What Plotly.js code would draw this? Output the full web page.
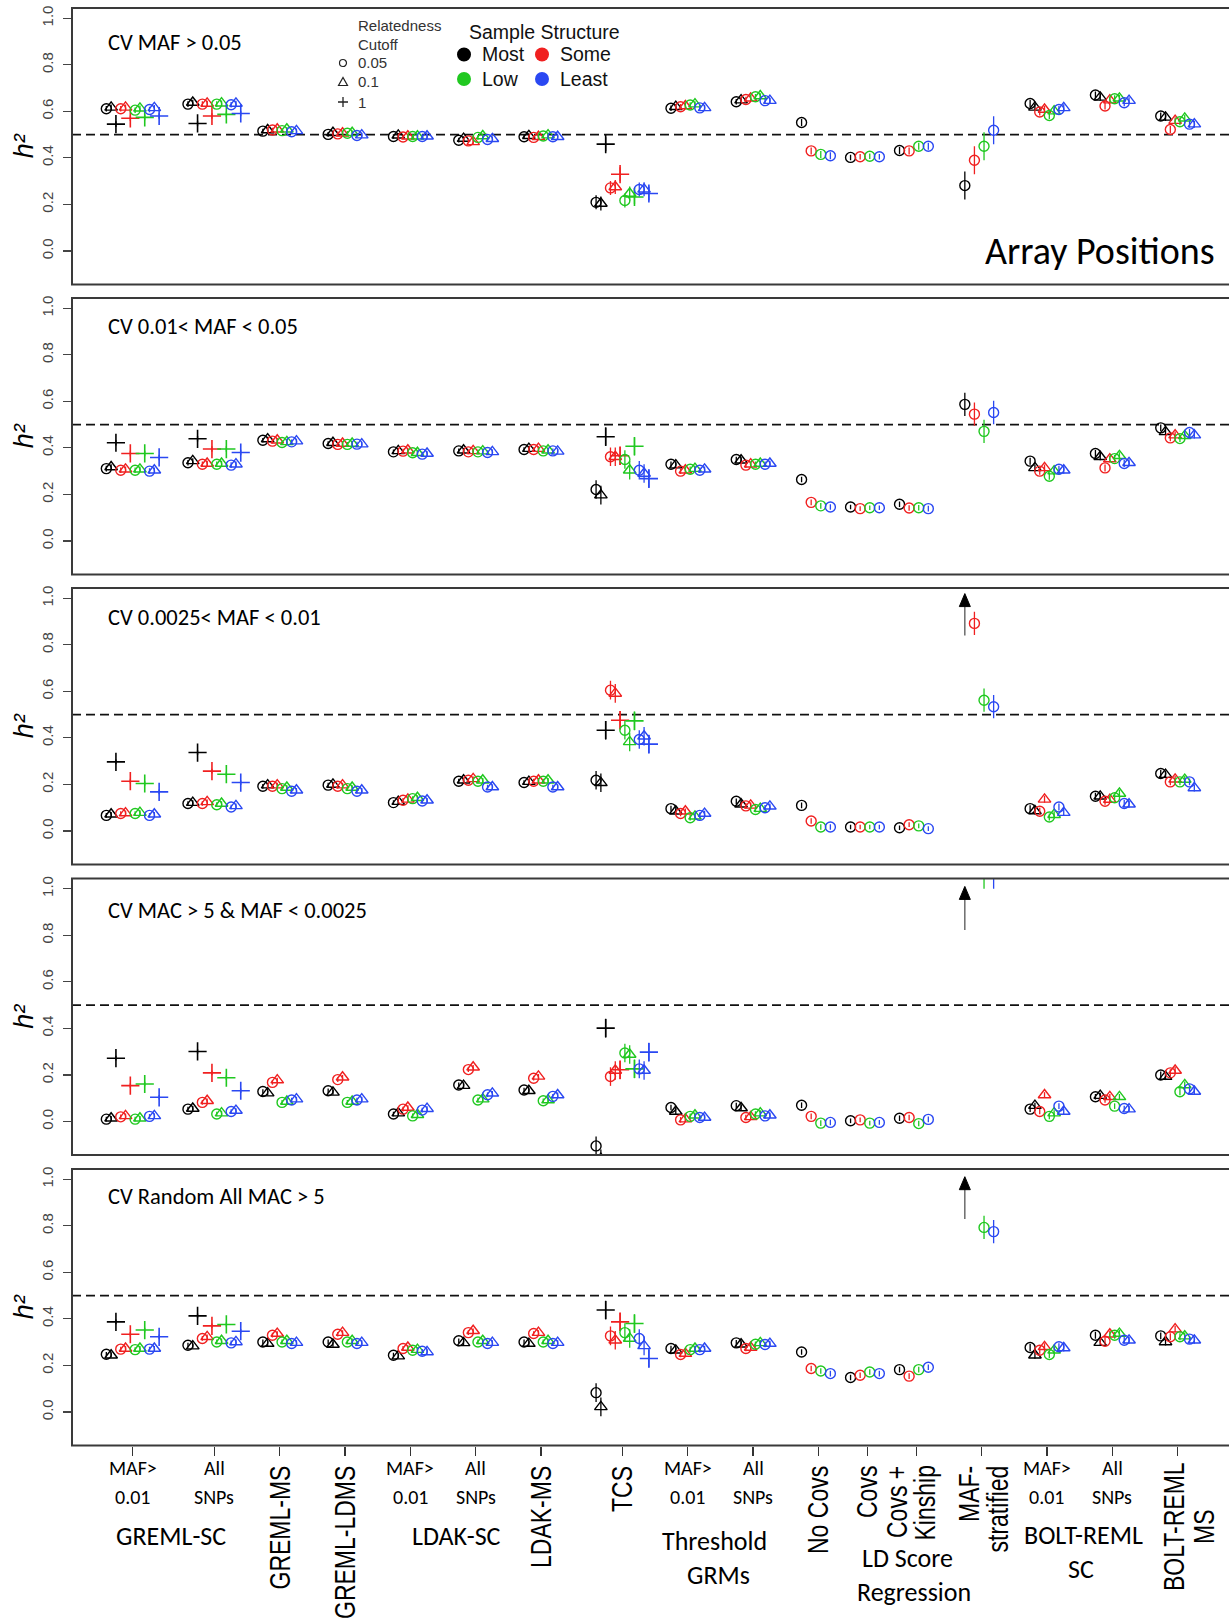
<!DOCTYPE html>
<html>
<head>
<meta charset="utf-8">
<script src="https://cdn.plot.ly/plotly-3.0.1.min.js"></script>
<style>
  html, body { margin: 0; padding: 0; background: #fff; }
  #chart { width: 1229px; height: 1621px; }
</style>
</head>
<body>
<div id="chart"></div>
<script>
// ---- Methods along the x axis ----
const methodLabels = ["GREML-SC MAF>0.01", "GREML-SC All SNPs", "GREML-MS", "GREML-LDMS",
  "LDAK-SC MAF>0.01", "LDAK-SC All SNPs", "LDAK-MS", "TCS",
  "Threshold GRMs MAF>0.01", "Threshold GRMs All SNPs",
  "LDSC No Covs", "LDSC Covs", "LDSC Covs + Kinship", "LDSC MAF-stratified",
  "BOLT-REML SC MAF>0.01", "BOLT-REML SC All SNPs", "BOLT-REML MS"];
const structures = ["Most", "Some", "Low", "Least"];
const cutoffs = ["0.05", "0.1", "1"];
const panelTitles = ["CV MAF > 0.05", "CV 0.01< MAF < 0.05", "CV 0.0025< MAF < 0.01",
  "CV MAC > 5 & MAF < 0.0025", "CV Random All MAC > 5"];
const yTicks = [0, 0.2, 0.4, 0.6, 0.8, 1.0];
const N = null;

// ---- h2 estimates: panel / sample structure / relatedness cutoff (c=0.05, t=0.1, p=1) ----
// Panel 1: CV MAF > 0.05
const p1_most_c  = [0.611,0.631,0.515,0.501,0.492,0.476,0.491,0.209,0.613,0.641,0.552,0.402,0.432,0.281,0.634,0.670,0.580];
const p1_most_t  = [0.617,0.638,0.520,0.508,0.497,0.483,0.495,0.204,0.620,0.648,N,N,N,N,0.617,0.660,0.574];
const p1_most_p  = [0.545,0.548,N,N,N,N,N,0.459,N,N,N,N,N,N,N,N,N];
const p1_some_c  = [0.611,0.631,0.520,0.503,0.490,0.473,0.488,0.271,0.620,0.651,0.430,0.405,0.430,0.390,0.597,0.623,0.522];
const p1_some_t  = [0.617,0.634,0.523,0.506,0.493,0.469,0.491,0.275,0.623,0.656,N,N,N,N,0.608,0.648,0.560];
const p1_some_p  = [0.570,0.580,N,N,N,N,N,0.330,N,N,N,N,N,N,N,N,N];
const p1_low_c   = [0.605,0.631,0.517,0.506,0.492,0.488,0.494,0.217,0.627,0.663,0.415,0.407,0.450,0.450,0.582,0.654,0.555];
const p1_low_t   = [0.613,0.635,0.523,0.508,0.493,0.494,0.498,0.247,0.631,0.666,N,N,N,N,0.601,0.656,0.570];
const p1_low_p   = [0.574,0.587,N,N,N,N,N,0.232,N,N,N,N,N,N,N,N,N];
const p1_least_c = [0.608,0.628,0.512,0.496,0.492,0.479,0.491,0.264,0.615,0.646,0.409,0.405,0.450,0.519,0.608,0.637,0.545];
const p1_least_t = [0.615,0.634,0.516,0.498,0.493,0.482,0.491,0.265,0.615,0.646,N,N,N,N,0.615,0.646,0.545];
const p1_least_p = [0.580,0.591,N,N,N,N,N,0.247,N,N,N,N,N,N,N,N,N];

// Panel 2: CV 0.01 < MAF < 0.05
const p2_most_c  = [0.311,0.336,0.433,0.419,0.383,0.387,0.393,0.221,0.330,0.350,0.264,0.146,0.158,0.587,0.343,0.376,0.486];
const p2_most_t  = [0.318,0.344,0.438,0.422,0.387,0.390,0.397,0.197,0.326,0.347,N,N,N,N,0.314,0.362,0.469];
const p2_most_p  = [0.422,0.439,N,N,N,N,N,0.448,N,N,N,N,N,N,N,N,N];
const p2_some_c  = [0.304,0.330,0.429,0.415,0.386,0.383,0.393,0.362,0.300,0.326,0.166,0.139,0.142,0.545,0.300,0.314,0.443];
const p2_some_t  = [0.308,0.333,0.433,0.419,0.390,0.387,0.397,0.362,0.304,0.330,N,N,N,N,0.314,0.352,0.455];
const p2_some_p  = [0.376,0.395,N,N,N,N,N,0.366,N,N,N,N,N,N,N,N,N];
const p2_low_c   = [0.304,0.330,0.423,0.415,0.379,0.383,0.387,0.350,0.308,0.330,0.151,0.143,0.143,0.471,0.278,0.354,0.440];
const p2_low_t   = [0.308,0.333,0.426,0.419,0.379,0.386,0.390,0.304,0.311,0.333,N,N,N,N,0.300,0.366,0.452];
const p2_low_p   = [0.376,0.395,N,N,N,N,N,0.407,N,N,N,N,N,N,N,N,N];
const p2_least_c = [0.300,0.326,0.426,0.416,0.373,0.380,0.387,0.304,0.304,0.330,0.146,0.143,0.139,0.552,0.308,0.333,0.466];
const p2_least_t = [0.304,0.330,0.429,0.416,0.376,0.383,0.385,0.290,0.308,0.333,N,N,N,N,0.304,0.336,0.455];
const p2_least_p = [0.359,0.380,N,N,N,N,N,0.268,N,N,N,N,N,N,N,N,N];

// Panel 3: CV 0.0025 < MAF < 0.01
const p3_most_c  = [0.067,0.118,0.192,0.197,0.122,0.214,0.208,0.218,0.096,0.128,0.110,0.017,0.014,N,0.096,0.149,0.247];
const p3_most_t  = [0.072,0.122,0.197,0.200,0.126,0.218,0.212,0.207,0.085,0.115,N,N,N,N,0.086,0.149,0.242];
const p3_most_p  = [0.297,0.337,N,N,N,N,N,0.433,N,N,N,N,N,N,N,N,N];
const p3_some_c  = [0.075,0.118,0.192,0.192,0.132,0.218,0.214,0.605,0.075,0.108,0.043,0.017,0.027,0.892,0.085,0.128,0.211];
const p3_some_t  = [0.077,0.125,0.197,0.197,0.136,0.224,0.218,0.591,0.085,0.110,N,N,N,N,0.136,0.135,0.222];
const p3_some_p  = [0.214,0.257,N,N,N,N,N,0.476,N,N,N,N,N,N,N,N,N];
const p3_low_c   = [0.075,0.113,0.182,0.182,0.139,0.214,0.214,0.433,0.057,0.092,0.017,0.017,0.022,0.562,0.060,0.143,0.211];
const p3_low_t   = [0.079,0.118,0.187,0.187,0.143,0.218,0.218,0.383,0.063,0.096,N,N,N,N,0.070,0.161,0.221];
const p3_low_p   = [0.204,0.244,N,N,N,N,N,0.473,N,N,N,N,N,N,N,N,N];
const p3_least_c = [0.067,0.103,0.171,0.171,0.129,0.189,0.189,0.393,0.067,0.100,0.017,0.017,0.010,0.534,0.103,0.118,0.211];
const p3_least_t = [0.072,0.108,0.175,0.175,0.132,0.189,0.189,0.407,0.075,0.106,N,N,N,N,0.079,0.115,0.185];
const p3_least_p = [0.168,0.208,N,N,N,N,N,0.373,N,N,N,N,N,N,N,N,N];

// Panel 4: CV MAC > 5 & MAF < 0.0025
const p4_most_c  = [0.010,0.053,0.129,0.132,0.032,0.157,0.135,-0.105,0.060,0.068,0.070,0.003,0.014,N,0.053,0.106,0.200];
const p4_most_t  = [0.014,0.056,0.122,0.125,0.036,0.154,0.132,-0.160,0.043,0.058,N,N,N,N,0.068,0.111,0.193];
const p4_most_p  = [0.272,0.301,N,N,N,N,N,0.401,N,N,N,N,N,N,N,N,N];
const p4_some_c  = [0.020,0.082,0.168,0.180,0.053,0.223,0.186,0.193,0.007,0.017,0.022,0.007,0.017,N,0.043,0.092,0.209];
const p4_some_t  = [0.024,0.089,0.178,0.190,0.060,0.233,0.194,0.219,0.010,0.020,N,N,N,N,0.114,0.106,0.219];
const p4_some_p  = [0.154,0.209,N,N,N,N,N,0.222,N,N,N,N,N,N,N,N,N];
const p4_low_c   = [0.010,0.032,0.082,0.082,0.024,0.092,0.089,0.294,0.022,0.032,-0.007,-0.007,-0.009,1.090,0.022,0.066,0.128];
const p4_low_t   = [0.014,0.036,0.086,0.086,0.029,0.096,0.092,0.288,0.027,0.036,N,N,N,N,0.036,0.106,0.157];
const p4_low_p   = [0.161,0.188,N,N,N,N,N,0.226,N,N,N,N,N,N,N,N,N];
const p4_least_c = [0.022,0.043,0.092,0.092,0.049,0.115,0.108,0.226,0.017,0.024,-0.004,-0.004,0.009,1.090,0.066,0.056,0.140];
const p4_least_t = [0.024,0.047,0.096,0.096,0.055,0.121,0.114,0.219,0.017,0.027,N,N,N,N,0.043,0.053,0.129];
const p4_least_p = [0.104,0.132,N,N,N,N,N,0.298,N,N,N,N,N,N,N,N,N];

// Panel 5: CV Random All MAC > 5
const p5_most_c  = [0.248,0.287,0.301,0.301,0.244,0.306,0.301,0.083,0.273,0.297,0.258,0.148,0.182,N,0.277,0.330,0.327];
const p5_most_t  = [0.244,0.283,0.294,0.290,0.240,0.297,0.294,0.022,0.265,0.291,N,N,N,N,0.244,0.298,0.301];
const p5_most_p  = [0.387,0.413,N,N,N,N,N,0.438,N,N,N,N,N,N,N,N,N];
const p5_some_c  = [0.270,0.316,0.330,0.334,0.273,0.341,0.337,0.327,0.247,0.273,0.187,0.158,0.154,N,0.265,0.304,0.323];
const p5_some_t  = [0.273,0.323,0.337,0.341,0.277,0.349,0.341,0.308,0.251,0.277,N,N,N,N,0.280,0.334,0.356];
const p5_some_p  = [0.334,0.370,N,N,N,N,N,0.387,N,N,N,N,N,N,N,N,N];
const p5_low_c   = [0.268,0.301,0.301,0.301,0.265,0.301,0.301,0.341,0.268,0.291,0.176,0.172,0.182,0.793,0.247,0.330,0.323];
const p5_low_t   = [0.273,0.306,0.306,0.306,0.268,0.306,0.306,0.316,0.273,0.297,N,N,N,N,0.265,0.337,0.326];
const p5_low_p   = [0.352,0.376,N,N,N,N,N,0.380,N,N,N,N,N,N,N,N,N];
const p5_least_c = [0.270,0.297,0.294,0.294,0.261,0.294,0.294,0.316,0.268,0.290,0.165,0.165,0.192,0.775,0.280,0.308,0.313];
const p5_least_t = [0.273,0.301,0.298,0.298,0.258,0.298,0.298,0.284,0.273,0.294,N,N,N,N,0.275,0.308,0.308];
const p5_least_p = [0.323,0.347,N,N,N,N,N,0.230,N,N,N,N,N,N,N,N,N];

// Half-widths of the confidence intervals, per panel and method
const ci_p1 = [0.012,0.012,0.010,0.010,0.010,0.010,0.010,0.030,0.012,0.012,0.015,0.012,0.015,0.060,0.015,0.015,0.015];
const ci_p2 = [0.012,0.012,0.010,0.010,0.010,0.010,0.010,0.040,0.012,0.012,0.012,0.010,0.012,0.050,0.015,0.015,0.015];
const ci_p3 = [0.010,0.010,0.010,0.010,0.010,0.010,0.010,0.040,0.012,0.012,0.012,0.010,0.010,0.050,0.015,0.015,0.015];
const ci_p4 = [0.010,0.010,0.010,0.010,0.010,0.010,0.010,0.040,0.012,0.012,0.012,0.010,0.012,0.090,0.012,0.012,0.015];
const ci_p5 = [0.010,0.010,0.010,0.010,0.010,0.010,0.010,0.040,0.012,0.012,0.012,0.012,0.012,0.050,0.015,0.015,0.015];

// Off-scale estimates (MAF-stratified, Most structure) shown as arrows
const arrowPanels = [3, 4, 5];
const arrowFrom   = [0.840, 0.823, 0.829];
const arrowTo     = [1.020, 1.010, 1.011];

// ---- Assemble ----
const panels = [
  [[p1_most_c,p1_most_t,p1_most_p],[p1_some_c,p1_some_t,p1_some_p],[p1_low_c,p1_low_t,p1_low_p],[p1_least_c,p1_least_t,p1_least_p]],
  [[p2_most_c,p2_most_t,p2_most_p],[p2_some_c,p2_some_t,p2_some_p],[p2_low_c,p2_low_t,p2_low_p],[p2_least_c,p2_least_t,p2_least_p]],
  [[p3_most_c,p3_most_t,p3_most_p],[p3_some_c,p3_some_t,p3_some_p],[p3_low_c,p3_low_t,p3_low_p],[p3_least_c,p3_least_t,p3_least_p]],
  [[p4_most_c,p4_most_t,p4_most_p],[p4_some_c,p4_some_t,p4_some_p],[p4_low_c,p4_low_t,p4_low_p],[p4_least_c,p4_least_t,p4_least_p]],
  [[p5_most_c,p5_most_t,p5_most_p],[p5_some_c,p5_some_t,p5_some_p],[p5_low_c,p5_low_t,p5_low_p],[p5_least_c,p5_least_t,p5_least_p]]
];
const panelCI = [ci_p1, ci_p2, ci_p3, ci_p4, ci_p5];

// Layout geometry
const W = 1229, H = 1621, ML = 72, PW = W - ML;
const PX_PER_UNIT = 65.3;
const X0 = 0.07;
const methodPos = [1, 2.25, 3.25, 4.25, 5.25, 6.25, 7.25, 8.5, 9.5, 10.5, 11.5, 12.25, 13, 14, 15, 16, 17];
const shapesPerStructure = [3,3,2,2,2,2,2,3,2,2,2,2,2,2,2,2,2];
const STEP = 0.0735;
const PANEL_TOP = [8, 298, 588, 878.5, 1169];
const PANEL_H = 276.5;
const YR = [-0.144, 1.044];

const colours = ["#000000", "#f02020", "#20c820", "#2a48f2"];
const symbols = ["circle-open", "triangle-up-open", "cross-thin-open"];
const symSize = [10, 11, 13];
const symLine = [1.4, 1.4, 1.6];

const SANS = "Liberation Sans, Arial, sans-serif";
const HUMAN = "Carlito, Lato, sans-serif";

const px2x = px => (px - ML) / PW;        // paper x from page pixel
const px2y = py => 1 - py / H;             // paper y from page pixel

function xPos(g, ci, si) {
  const ns = shapesPerStructure[g];
  const n = 4 * ns;
  const k = ci * ns + si;
  return methodPos[g] + (k - (n - 1) / 2) * STEP;
}

const traces = [];
panels.forEach((pd, p) => {
  const yax = p === 0 ? "y" : "y" + (p + 1);
  pd.forEach((series, ci) => {
    series.forEach((vals, si) => {
      const xs = [], ys = [], es = [];
      vals.forEach((v, g) => {
        if (v === null) return;
        xs.push(xPos(g, ci, si));
        ys.push(v);
        es.push(panelCI[p][g]);
      });
      traces.push({
        type: "scatter", mode: "markers", xaxis: "x", yaxis: yax,
        x: xs, y: ys,
        name: structures[ci] + " / " + cutoffs[si],
        marker: { symbol: symbols[si], size: symSize[si], color: colours[ci],
                  line: { color: colours[ci], width: symLine[si] } },
        error_y: { type: "data", array: es, visible: true, width: 0,
                   thickness: 1.3, color: colours[ci] },
        hoverinfo: "skip"
      });
    });
  });
});

const layout = {
  width: W, height: H,
  margin: { l: ML, r: 0, t: 0, b: 0, pad: 0 },
  paper_bgcolor: "#ffffff", plot_bgcolor: "#ffffff",
  showlegend: false,
  font: { family: SANS, color: "#000" },
  xaxis: {
    range: [X0, X0 + PW / PX_PER_UNIT], anchor: "y5",
    tickvals: methodPos, ticks: "outside", ticklen: 9, tickwidth: 1.4, tickcolor: "#333",
    showticklabels: false, showgrid: false, zeroline: false, showline: false, fixedrange: true
  },
  shapes: [], annotations: []
};

PANEL_TOP.forEach((top, p) => {
  const key = p === 0 ? "yaxis" : "yaxis" + (p + 1);
  const yref = p === 0 ? "y" : "y" + (p + 1);
  layout[key] = {
    domain: [px2y(top + PANEL_H), px2y(top)], anchor: "x", range: YR,
    tickvals: yTicks, tickformat: ".1f", tickangle: -90,
    ticks: "outside", ticklen: 8, tickwidth: 1.2, tickcolor: "#444",
    ticklabelstandoff: 4,
    tickfont: { family: SANS, size: 15, color: "#444" },
    showgrid: false, zeroline: false, showline: false, fixedrange: true
  };
  // panel frame (the right side runs off the page)
  layout.shapes.push({ type: "rect", xref: "paper", yref: yref + " domain",
    x0: 0, x1: 1.01, y0: 0, y1: 1, line: { color: "#3a3a3a", width: 2 }, layer: "above" });
  // true heritability reference line
  layout.shapes.push({ type: "line", xref: "paper", yref: yref, x0: 0, x1: 1, y0: 0.5, y1: 0.5,
    line: { color: "#111", width: 1.8, dash: "9px,5px" }, layer: "below" });
  // y axis label
  layout.annotations.push({ xref: "paper", yref: yref + " domain", x: px2x(24), y: 0.5,
    text: "h²", textangle: -90, showarrow: false, xanchor: "center", yanchor: "middle",
    font: { family: SANS, size: 27, color: "#000", style: "italic" } });
});

// panel titles
const titleOffset = [34.7, 28.7, 29.3, 31.5, 27];
panelTitles.forEach((t, p) => {
  layout.annotations.push({ xref: "paper", yref: "paper", x: px2x(106), y: px2y(PANEL_TOP[p] + titleOffset[p]),
    text: t, showarrow: false, xanchor: "left", yanchor: "middle",
    font: { family: HUMAN, size: 22.5, color: "#000" } });
});
layout.annotations.push({ xref: "paper", yref: "paper", x: px2x(1217), y: px2y(251),
  text: "Array Positions", showarrow: false, xanchor: "right", yanchor: "middle",
  font: { family: HUMAN, size: 38, color: "#000" } });

// legends in the first panel
const legText = (txt, x, y, size, col) => layout.annotations.push({ xref: "paper", yref: "paper",
  x: px2x(x), y: px2y(y), text: txt, showarrow: false, xanchor: "left", yanchor: "middle",
  font: { family: SANS, size: size, color: col } });
legText("Relatedness", 356, 26, 15, "#333");
legText("Cutoff", 356, 45, 15, "#333");
legText(cutoffs[0], 356, 63, 15, "#333");
legText(cutoffs[1], 356, 82, 15, "#333");
legText(cutoffs[2], 356, 102, 15, "#333");
const glyph = (path, x, y, w) => layout.shapes.push({ type: "path", xref: "paper", yref: "paper",
  xsizemode: "pixel", ysizemode: "pixel", xanchor: px2x(x), yanchor: px2y(y), path: path,
  line: { color: "#222", width: w } });
layout.shapes.push({ type: "circle", xref: "paper", yref: "paper", xsizemode: "pixel", ysizemode: "pixel",
  xanchor: px2x(343), yanchor: px2y(63), x0: -3.5, x1: 3.5, y0: -3.5, y1: 3.5, line: { color: "#222", width: 1.2 } });
glyph("M-4.5,-3.5L4.5,-3.5L0,4.5Z", 343, 82, 1.2);
glyph("M-5,0L5,0M0,-5L0,5", 343, 102, 1.3);

legText("Sample Structure", 467, 32, 19.5, "#111");
const dotPos = [[464, 54.5, 480], [542, 54.5, 558], [464, 79, 480], [542, 79, 558]];
structures.forEach((s, i) => {
  const [dx, dy, tx] = dotPos[i];
  layout.shapes.push({ type: "circle", xref: "paper", yref: "paper", xsizemode: "pixel", ysizemode: "pixel",
    xanchor: px2x(dx), yanchor: px2y(dy), x0: -7, x1: 7, y0: -7, y1: 7,
    fillcolor: colours[i], line: { color: colours[i], width: 0 } });
  legText(s, tx, dy, 19.5, "#111");
});

// off-scale arrows: grey shaft with a filled head at the top
arrowPanels.forEach((pn, i) => {
  const yref = "y" + pn;
  const xa = xPos(13, 0, 0);
  layout.shapes.push({ type: "line", xref: "x", yref: yref, x0: xa, x1: xa,
    y0: arrowFrom[i], y1: arrowTo[i] - 0.03, line: { color: "#555", width: 1.3 } });
  layout.shapes.push({ type: "path", xref: "x", yref: yref, xsizemode: "pixel", ysizemode: "pixel",
    xanchor: xa, yanchor: arrowTo[i], path: "M-5.5,-13L5.5,-13L0,0Z",
    fillcolor: "#000", line: { color: "#000", width: 1 } });
});

// x axis category labels
const hLab = (txt, x, py, size, xref) => layout.annotations.push({ xref: xref || "x", yref: "paper",
  x: x, y: px2y(py), text: txt, showarrow: false, xanchor: "center", yanchor: "middle",
  font: { family: HUMAN, size: size, color: "#000" } });
[[0, "MAF>", "0.01"], [1, "All", "SNPs"], [4, "MAF>", "0.01"], [5, "All", "SNPs"],
 [8, "MAF>", "0.01"], [9, "All", "SNPs"], [14, "MAF>", "0.01"], [15, "All", "SNPs"]].forEach(([g, a, b]) => {
  hLab(a, methodPos[g], 1467.5, 20);
  hLab(b, methodPos[g], 1496.5, 20);
});
hLab("GREML-SC", px2x(171), 1536, 26, "paper");
hLab("LDAK-SC", px2x(456), 1536, 26, "paper");
hLab("Threshold", px2x(714), 1541, 26, "paper");
hLab("GRMs", px2x(718), 1575, 26, "paper");
hLab("LD Score", px2x(907), 1558, 26, "paper");
hLab("Regression", px2x(914), 1592, 26, "paper");
hLab("BOLT-REML", px2x(1083), 1535, 26, "paper");
hLab("SC", px2x(1081), 1569, 26, "paper");

// rotated labels (one annotation per line); widened afterwards
const rotated = [];
const vLab = (txt, xpx, ypx, anchor) => {
  rotated.push(layout.annotations.length);
  layout.annotations.push({ xref: "paper", yref: "paper",
    x: px2x(xpx), y: px2y(ypx), text: txt, showarrow: false, textangle: -90,
    xanchor: "center", yanchor: anchor || "top",
    font: { family: SANS, size: 23, color: "#000" } });
};
vLab("GREML-MS", 279.5, 1464);
vLab("GREML-LDMS", 344.5, 1464);
vLab("LDAK-MS", 541, 1464);
vLab("TCS", 622, 1464);
vLab("No Covs", 818, 1464);
vLab("Covs", 867, 1464);
vLab("Covs +", 897, 1464);
vLab("Kinship", 924, 1464);
vLab("MAF-", 969, 1464);
vLab("stratified", 997, 1464);
vLab("BOLT-REML", 1174, 1527, "middle");
vLab("MS", 1204, 1527, "middle");

Plotly.newPlot("chart", traces, layout, { staticPlot: true, displayModeBar: false }).then(gd => {
  // the rotated labels use a broad letterform: stretch glyph height across the reading direction
  rotated.forEach(i => {
    const t = gd.querySelector('g.annotation[data-index="' + i + '"] text.annotation-text');
    if (!t) return;
    const bb = t.getBBox();
    const cy = bb.y + bb.height / 2;
    t.setAttribute("transform", "translate(0," + cy + ") scale(1,1.28) translate(0," + (-cy) + ")");
  });
});
</script>
</body>
</html>
